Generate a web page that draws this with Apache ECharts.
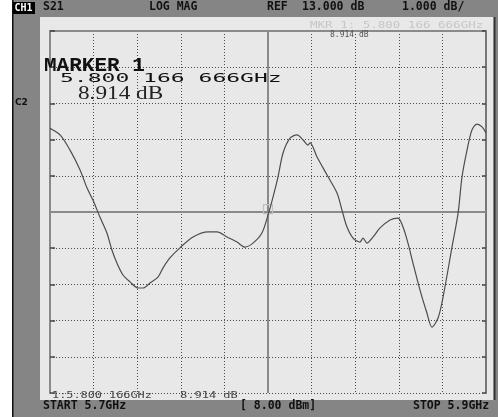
<!DOCTYPE html>
<html>
<head>
<meta charset="utf-8">
<script src="https://cdn.jsdelivr.net/npm/echarts@6/dist/echarts.min.js"></script>
<style>
  html, body { margin: 0; padding: 0; background: #ffffff; }
  #chart { width: 498px; height: 417px; }
</style>
</head>
<body>
<div id="chart"></div>
<script>
// S21 sweep, 5.7 – 5.9 GHz (frequency in GHz, magnitude in dB)
const freqGHz = [
  5.7000, 5.7046, 5.7092, 5.7138, 5.7170, 5.7197, 5.7229, 5.7261, 5.7284, 5.7307,
  5.7335, 5.7367, 5.7404, 5.7427, 5.7459, 5.7495, 5.7518, 5.7550, 5.7596, 5.7656,
  5.7725, 5.7766, 5.7812, 5.7858, 5.7894, 5.7931, 5.7972, 5.8000, 5.8023, 5.8046,
  5.8069, 5.8101, 5.8133, 5.8161, 5.8183, 5.8193, 5.8225, 5.8271, 5.8317, 5.8339,
  5.8362, 5.8390, 5.8422, 5.8436, 5.8454, 5.8482, 5.8514, 5.8560, 5.8596, 5.8619,
  5.8642, 5.8665, 5.8697, 5.8729, 5.8752, 5.8780, 5.8803, 5.8844, 5.8872, 5.8890,
  5.8913, 5.8936, 5.8959, 5.8982, 5.9000
];
const s21dB = [
  11.31, 11.13, 10.71, 10.16, 9.66, 9.33, 8.86, 8.42, 7.95, 7.59,
  7.26, 7.07, 6.90, 6.90, 7.04, 7.20, 7.45, 7.73, 8.01, 8.31,
  8.45, 8.45, 8.31, 8.17, 8.03, 8.14, 8.42, 8.914, 9.41, 9.97,
  10.63, 11.04, 11.13, 10.99, 10.85, 10.91, 10.52, 10.02, 9.52, 9.06,
  8.59, 8.28, 8.17, 8.28, 8.14, 8.31, 8.56, 8.78, 8.83, 8.59,
  8.14, 7.59, 6.85, 6.21, 5.82, 6.07, 6.65, 8.03, 8.97, 9.97,
  10.71, 11.27, 11.43, 11.35, 11.18
];

// Axis span: 10 divisions each way
const freqRange = [5.7, 5.9];
const freqStep = 0.02;
const dbRange = [4, 14];
const dbStep = 1;

// Marker 1
const markerFreq = 5.8;
const markerDB = 8.914;

// Annotation strings
const headerTexts = ['S21', 'LOG MAG', 'REF', '13.000 dB', '1.000 dB/'];
const footerTexts = ['START 5.7GHz', '[ 8.00 dBm]', 'STOP 5.9GHz'];

const chart = echarts.init(document.getElementById('chart'), null, { renderer: 'canvas' });

const MONO = '"DejaVu Sans Mono", "Liberation Mono", monospace';
const dotted = { color: '#4a4a4a', width: 1, type: [1, 2] };
const solid = { color: '#8a8a8a', width: 2 };

function txt(x, y, s, font, fill, sx, z) {
  return {
    type: 'text', x: x, y: y, scaleX: sx || 1, z: z || 50, silent: true,
    style: { text: s, font: font, fill: fill, textAlign: 'left', textVerticalAlign: 'middle' }
  };
}

const headerX = [43, 149, 267, 302, 402];
const footerX = [43, 240, 413];

const graphics = [
  // frame
  { type: 'rect', z: -20, silent: true, shape: { x: 0, y: 0, width: 12, height: 417 }, style: { fill: '#ffffff' } },
  { type: 'rect', z: -20, silent: true, shape: { x: 12, y: 0, width: 1.5, height: 417 }, style: { fill: '#111111' } },
  { type: 'rect', z: -20, silent: true, shape: { x: 40, y: 17, width: 453, height: 383 }, style: { fill: '#e8e8e8' } },
  { type: 'rect', z: -20, silent: true, shape: { x: 494, y: 17, width: 1.5, height: 383 }, style: { fill: '#333333' } },
  // channel badge
  { type: 'rect', z: 40, silent: true, shape: { x: 13, y: 2, width: 22, height: 12 }, style: { fill: '#000000' } },
  txt(14.5, 8, 'CH1', 'bold 10px ' + MONO, '#ffffff', 1, 60),
  txt(15, 103, 'C2', 'bold 9px "DejaVu Sans", sans-serif', '#111111'),
  // marker readout (faint top line)
  txt(310, 25.5, 'MKR 1: 5.800 166 666GHz', '9px ' + MONO, '#c6c6c6', 1.39),
  txt(330, 34.7, markerDB.toFixed(3) + ' dB', '8px ' + MONO, '#555555', 1),
  // big marker readout
  txt(44, 65.5, 'MARKER 1', 'bold 20px "Liberation Mono", "Courier New", monospace', '#111111', 1.05),
  txt(60, 79, '5.800 166 666GHz', '13px ' + MONO, '#111111', 1.77),
  txt(78, 93.8, markerDB.toFixed(3) + ' dB', '18px "Liberation Serif", serif', '#222222', 1.29),
  // bottom readout
  txt(52, 395.8, '1:5.800 166GHz', '8px ' + MONO, '#444444', 1.48),
  txt(180, 395.8, markerDB.toFixed(3) + ' dB', '8px ' + MONO, '#444444', 1.5)
];
headerTexts.forEach((s, i) => graphics.push(txt(headerX[i], 7.5, s, 'bold 11.5px ' + MONO, '#111111', 1)));
footerTexts.forEach((s, i) => graphics.push(txt(footerX[i], 406.5, s, 'bold 11.5px ' + MONO, '#111111', 1)));

const option = {
  backgroundColor: '#858585',
  animation: false,
  grid: { left: 50, top: 31, width: 436, height: 362, show: false },
  xAxis: [
    {
      type: 'value', min: freqRange[0], max: freqRange[1], interval: freqStep,
      axisLine: { show: false }, axisTick: { show: false }, axisLabel: { show: false },
      splitLine: { show: true, lineStyle: dotted }
    },
    {
      type: 'value', position: 'top', min: freqRange[0], max: freqRange[1], interval: freqStep,
      axisLine: { show: true, onZero: false, lineStyle: solid }, axisTick: { show: false },
      axisLabel: { show: false }, splitLine: { show: false }
    }
  ],
  yAxis: [
    {
      type: 'value', min: dbRange[0], max: dbRange[1], interval: dbStep,
      axisLine: { show: true, onZero: false, lineStyle: solid },
      axisTick: { show: true, inside: true, length: 5, lineStyle: { color: '#444', width: 1.5 } },
      axisLabel: { show: false },
      splitLine: { show: true, lineStyle: dotted }
    },
    {
      type: 'value', position: 'right', min: dbRange[0], max: dbRange[1], interval: dbStep,
      axisLine: { show: true, onZero: false, lineStyle: { color: '#777', width: 2 } },
      axisTick: { show: true, inside: true, length: 4, lineStyle: { color: '#444', width: 1.5 } },
      axisLabel: { show: false }, splitLine: { show: false }
    }
  ],
  graphic: graphics,
  series: [
    {
      type: 'line',
      xAxisIndex: 0, yAxisIndex: 0,
      data: freqGHz.map((f, i) => [f, s21dB[i]]),
      showSymbol: false,
      smooth: 0.3,
      z: 5,
      lineStyle: { color: '#4d4d4d', width: 1.2 },
      markLine: {
        silent: true, symbol: 'none', label: { show: false },
        lineStyle: { color: '#8a8a8a', width: 2, type: 'solid' },
        data: [{ xAxis: markerFreq }, { yAxis: (dbRange[0] + dbRange[1]) / 2 }]
      },
      markPoint: {
        silent: true,
        symbol: 'rect', symbolSize: 9, symbolOffset: [0, -6],
        label: { show: false },
        itemStyle: { color: 'rgba(0,0,0,0)', borderColor: '#c0c0c0', borderWidth: 1.2 },
        data: [{ coord: [markerFreq, markerDB] }]
      }
    }
  ]
};

chart.setOption(option);
</script>
</body>
</html>
